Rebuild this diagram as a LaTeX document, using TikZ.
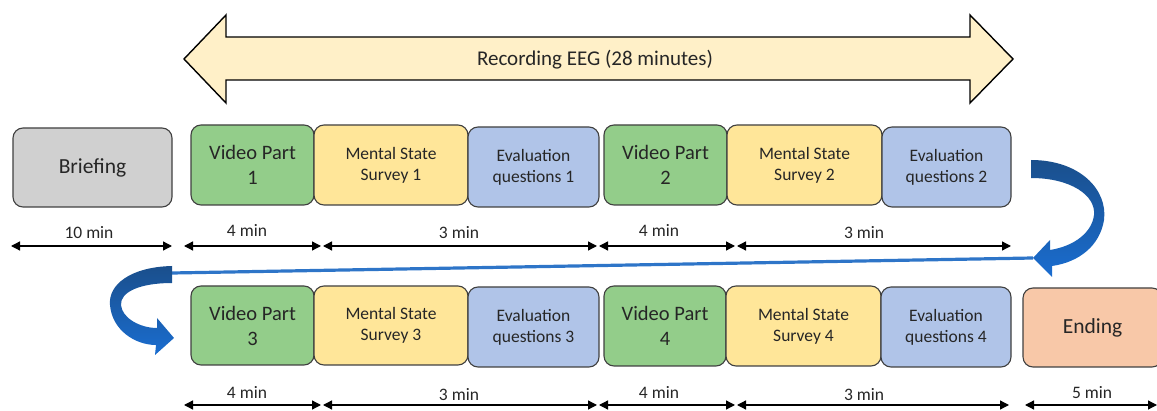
\documentclass[tikz,border=0pt]{standalone}
\usepackage{fontspec}
\setmainfont{Carlito}
\usetikzlibrary{arrows.meta}
\definecolor{cgreen}{HTML}{93CD8A}
\definecolor{cyellow}{HTML}{FFE699}
\definecolor{cblue}{HTML}{B0C4E8}
\definecolor{cgrey}{HTML}{D0D0D0}
\definecolor{cpeach}{HTML}{F8C8A8}
\definecolor{cbanner}{HTML}{FFF0C8}
\definecolor{cline}{HTML}{2E75C8}
\definecolor{cdark}{HTML}{1A4F8C}
\definecolor{clight}{HTML}{1A6DD0}
\tikzset{
  box/.style={draw=black!75, line width=1.1pt, rounded corners=10pt, align=center, inner sep=0pt, text=black!85},
  vid/.style={box, fill=cgreen, font=\fontsize{20.5}{25}\selectfont},
  mss/.style={box, fill=cyellow, font=\fontsize{17.5}{21}\selectfont},
  evq/.style={box, fill=cblue, font=\fontsize{17.5}{21}\selectfont},
  dim/.style={line width=1.3pt, {Triangle[length=9pt,width=9pt]}-{Triangle[length=9pt,width=9pt]}},
  dimlab/.style={font=\fontsize{17.5}{20}\selectfont, text=black!85, inner sep=0pt},
}
\begin{document}
\begin{tikzpicture}[x=1pt,y=-1pt]
\useasboundingbox (0,0) rectangle (1157,411);
% banner double arrow
\draw[line width=1.4pt, fill=cbanner, line join=miter]
  (184,59) -- (226,15) -- (226,37) -- (970,37) -- (970,15) -- (1013,59)
  -- (970,103) -- (970,80) -- (226,80) -- (226,103) -- cycle;
\node[font=\fontsize{21}{24}\selectfont, text=black!85] (rec) at (595,60) {Recording EEG (28 minutes)};
% row 1
\node[box, fill=cgrey, minimum width=159, minimum height=79, font=\fontsize{21.5}{24}\selectfont] (brief) at (92.5,167.5) {Briefing};
\node[vid, minimum width=123, minimum height=80] (v1) at (252.5,165) {Video Part\\1};
\node[mss, minimum width=154, minimum height=80] (m1) at (391,165) {Mental State\\Survey 1};
\node[evq, minimum width=131, minimum height=80] (e1) at (533.5,167) {Evaluation\\questions 1};
\node[vid, minimum width=123, minimum height=80] (v2) at (665.5,165) {Video Part\\2};
\node[mss, minimum width=155, minimum height=80] (m2) at (804.5,165) {Mental State\\Survey 2};
\node[evq, minimum width=129, minimum height=80] (e2) at (946.5,167) {Evaluation\\questions 2};
% row 2
\node[vid, minimum width=123, minimum height=79] (v3) at (252.5,325.5) {Video Part\\3};
\node[mss, minimum width=154, minimum height=79] (m3) at (391,325.5) {Mental State\\Survey 3};
\node[evq, minimum width=131, minimum height=80] (e3) at (533.5,327) {Evaluation\\questions 3};
\node[vid, minimum width=122, minimum height=80] (v4) at (665,326) {Video Part\\4};
\node[mss, minimum width=155, minimum height=80] (m4) at (803.5,326) {Mental State\\Survey 4};
\node[evq, minimum width=130, minimum height=80] (e4) at (946,327) {Evaluation\\questions 4};
\node[box, fill=cpeach, minimum width=139, minimum height=79, font=\fontsize{21.5}{24}\selectfont] (end) at (1092.5,327.5) {Ending};
% dimension coordinates row 1
\coordinate (a0) at (11,246); \coordinate (a1) at (172,246);
\coordinate (b0) at (184,246); \coordinate (b1) at (321,246);
\coordinate (c0) at (323,246); \coordinate (c1) at (597,246);
\coordinate (d0) at (599,246); \coordinate (d1) at (735,246);
\coordinate (f0) at (737,246); \coordinate (f1) at (1011,246);
\draw[dim] (a0) -- (a1); \draw[dim] (b0) -- (b1); \draw[dim] (c0) -- (c1);
\draw[dim] (d0) -- (d1); \draw[dim] (f0) -- (f1);
\node[dimlab] (la) at (89,233) {10 min};
\node[dimlab] (lb) at (247,230) {4 min};
\node[dimlab] (lc) at (459,233) {3 min};
\node[dimlab] (ld) at (659,230) {4 min};
\node[dimlab] (lf) at (864,233) {3 min};
% dimension coordinates row 2
\coordinate (g0) at (184,405); \coordinate (g1) at (321,405);
\coordinate (h0) at (323,405); \coordinate (h1) at (597,405);
\coordinate (i0) at (599,405); \coordinate (i1) at (735,405);
\coordinate (j0) at (737,405); \coordinate (j1) at (1009,405);
\coordinate (k0) at (1025,405); \coordinate (k1) at (1157,405);
\draw[dim] (g0) -- (g1); \draw[dim] (h0) -- (h1); \draw[dim] (i0) -- (i1);
\draw[dim] (j0) -- (j1); \draw[dim] (k0) -- (k1);
\node[dimlab] (lg) at (247,392) {4 min};
\node[dimlab] (lh) at (459,395) {3 min};
\node[dimlab] (li) at (659,392) {4 min};
\node[dimlab] (lj) at (864,395) {3 min};
\node[dimlab] (lk) at (1092,393) {5 min};
% blue connector line
\coordinate (rt) at (1033,258);
\coordinate (lt) at (172,273);
\draw[cline, line width=3.2pt] (rt) -- (lt);
% right curved arrow
\shade[top color=cdark, bottom color=clight]
  (1031,160) .. controls (1080,160) and (1108,190) .. (1104,220)
  .. controls (1100,245) and (1080,262) .. (1052,266)
  -- (1052,277) -- (rt) -- (1050,240) -- (1050,250)
  .. controls (1075,246) and (1092,232) .. (1094,215)
  .. controls (1096,195) and (1070,178) .. (1031,178) -- cycle;
% left curved arrow
\shade[top color=cdark, bottom color=clight]
  (172,266) .. controls (130,267) and (108,285) .. (110,305)
  .. controls (112,330) and (135,345) .. (156,345)
  -- (155,355) -- (174,338) -- (157,318) -- (157,328)
  .. controls (140,328) and (122,318) .. (121,305)
  .. controls (120,292) and (140,283) .. (172,283) -- cycle;
\end{tikzpicture}
\end{document}
